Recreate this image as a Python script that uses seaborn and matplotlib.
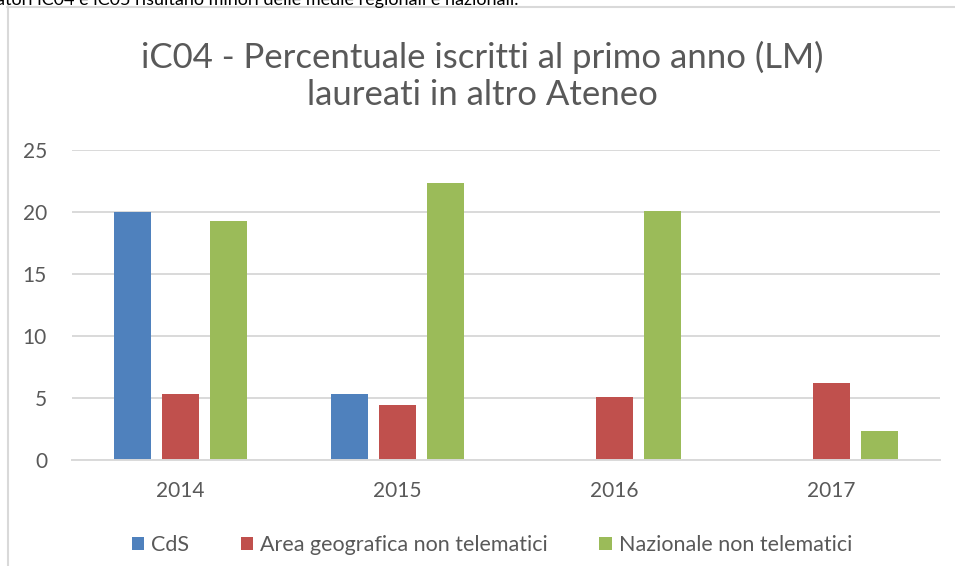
import numpy as np
import pandas as pd
import matplotlib.pyplot as plt
import seaborn as sns
from matplotlib.lines import Line2D

# values
years = ['2014', '2015', '2016', '2017']
cds = [20.0, 5.3, np.nan, np.nan]
area_geo = [5.3, 4.4, 5.1, 6.2]
nazionale = [19.3, 22.3, 20.1, 2.3]

series_names = ['CdS', 'Area geografica non telematici', 'Nazionale non telematici']
colors = ['#4F81BD', '#C0504D', '#9BBB59']

df = pd.DataFrame({
    'anno': years * 3,
    'serie': [series_names[0]] * 4 + [series_names[1]] * 4 + [series_names[2]] * 4,
    'valore': cds + area_geo + nazionale,
})

sns.set_style('white')
plt.rcParams['font.family'] = ['Lato', 'DejaVu Sans']

fig = plt.figure(figsize=(9.55, 5.66), dpi=100)
ax = fig.add_axes([72 / 955, 1 - 460 / 566, 868 / 955, 310 / 566])

sns.barplot(data=df, x='anno', y='valore', hue='serie', palette=colors,
            saturation=1, width=0.663, gap=0.21, ax=ax, edgecolor='none',
            legend=True)

ax.set_ylim(0, 25)
ax.set_yticks([0, 5, 10, 15, 20, 25])
ax.set_xlim(-0.5, 3.5)
ax.yaxis.grid(True, color='#d9d9d9', linewidth=1.4)
ax.set_axisbelow(True)
for side in ['left', 'right', 'top']:
    ax.spines[side].set_visible(False)
ax.spines['bottom'].set_color('#d9d9d9')
ax.spines['bottom'].set_linewidth(1.4)
ax.tick_params(axis='both', length=0, labelsize=15, labelcolor='#595959')
ax.tick_params(axis='y', pad=18)
ax.tick_params(axis='x', pad=15)
ax.set_xlabel('')
ax.set_ylabel('')

# legend at the bottom, centered
handles, labels = ax.get_legend_handles_labels()
ax.get_legend().remove()
fig.legend(handles, labels, loc='center', bbox_to_anchor=(0.515, 1 - 545 / 566),
           ncol=3, frameon=False, fontsize=15.5, labelcolor='#595959',
           handlelength=0.6, handleheight=0.6, handletextpad=0.3,
           columnspacing=2.4)

# title
fig.text(0.505, 1 - 76 / 566,
         'iC04 - Percentuale iscritti al primo anno (LM)\nlaureati in altro Ateneo',
         ha='center', va='center', fontsize=25, color='#595959', linespacing=1.2)

# cut-off text of the page above the chart
fig.text(-0.004, 1 - 5 / 566,
         'atori iC04 e iC05 risultano minori delle medie regionali e nazionali.',
         ha='left', va='baseline', fontsize=13, color='#000000')

# chart frame (left and top edges)
fig.add_artist(Line2D([7.5 / 955, 7.5 / 955], [0, 1 - 6 / 566],
                      transform=fig.transFigure, color='#d9d9d9', linewidth=1.5))
fig.add_artist(Line2D([7 / 955, 1], [1 - 6.5 / 566, 1 - 6.5 / 566],
                      transform=fig.transFigure, color='#d9d9d9', linewidth=1.5))

fig.savefig('out.png', dpi=100)
